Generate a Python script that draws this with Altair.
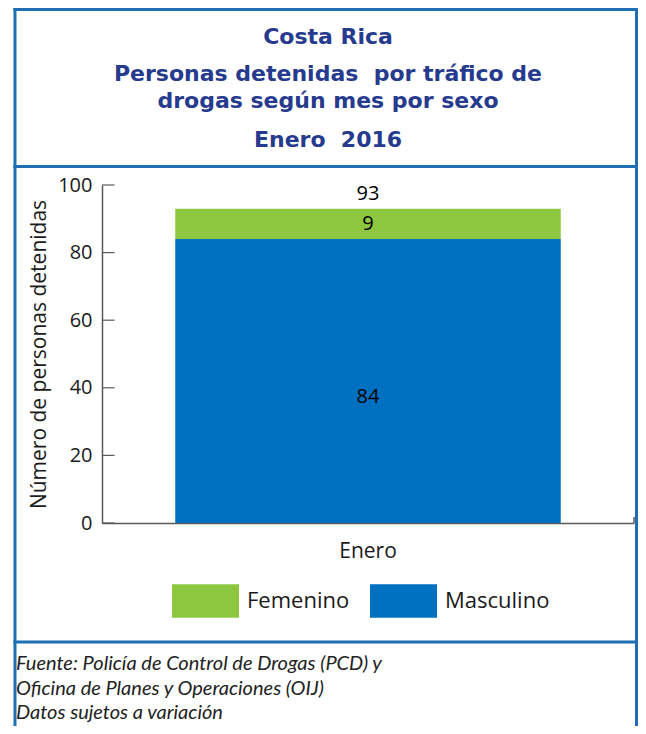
import altair as alt
import pandas as pd

# ---- data ----
months = ["Enero", "Enero"]
sexes = ["Masculino", "Femenino"]
counts = [84, 9]
stack_order = [0, 1]
y_ticks = [0, 20, 40, 60, 80, 100]
legend_domain = ["Femenino", "Masculino"]
legend_colors = ["#8dc63f", "#0070c0"]

title_lines = ["Costa Rica", "Personas detenidas\u00a0 por tráfico de",
               "drogas según mes por sexo", "Enero\u00a0 2016"]
footer_lines = ["Fuente: Policía de Control de Drogas (PCD) y",
                "Oficina de Planes y Operaciones (OIJ)",
                "Datos sujetos a variación"]

df = pd.DataFrame({"mes": months, "sexo": sexes, "valor": counts, "ord": stack_order})

W, H = 532, 338
FRAME = "#1f6eb4"
TXT = "#1a1a1a"
AX = "#595959"

yscale = alt.Scale(domain=[0, 100])
xscale = alt.Scale(paddingInner=0, paddingOuter=0.19)
yaxis = alt.Axis(
    values=y_ticks, tickSize=0, grid=False, labelFont="Open Sans",
    labelFontSize=20, labelColor=TXT, labelPadding=10,
    domainColor=AX, domainWidth=1.5,
    title="Número de personas detenidas", titleFont="Open Sans",
    titleFontSize=21, titleFontWeight="normal", titleColor=TXT,
    titlePadding=8)

base = alt.Chart(df).transform_stack(
    stack="valor", groupby=["mes"], as_=["y0", "y1"],
    sort=[alt.SortField("ord", order="ascending")]
)

bars = base.mark_bar().encode(
    x=alt.X("mes:N", scale=xscale, axis=alt.Axis(
        title=None, labelAngle=0, ticks=False, labelFont="Open Sans",
        labelFontSize=21, labelColor=TXT, labelPadding=17,
        domainColor=AX, domainWidth=1.5)),
    y=alt.Y("y0:Q", scale=yscale, axis=yaxis),
    y2="y1:Q",
    color=alt.Color("sexo:N", scale=alt.Scale(domain=legend_domain, range=legend_colors),
                    legend=alt.Legend(
                        title=None, orient="none", legendX=70, legendY=382,
                        direction="horizontal",
                        symbolType="M-1,-0.5H1V0.5H-1Z", symbolSize=4489,
                        symbolStrokeWidth=0, symbolOpacity=1,
                        labelFont="Open Sans", labelFontSize=22, labelColor=TXT,
                        labelOffset=8, columnPadding=20)),
)

seg_lab_f = base.transform_filter(alt.datum.sexo == "Femenino").transform_calculate(
    mid="(datum.y0 + datum.y1) / 2").mark_text(
    font="Open Sans", fontSize=20, color="black", baseline="middle").encode(
    x=alt.X("mes:N", scale=xscale), y=alt.Y("mid:Q", scale=yscale, axis=yaxis), text="valor:Q")

seg_lab_m = base.transform_filter(alt.datum.sexo == "Masculino").transform_calculate(
    mid="(datum.y0 + datum.y1) / 2").mark_text(
    font="Open Sans", fontSize=20, color="black", baseline="middle", dy=16).encode(
    x=alt.X("mes:N", scale=xscale), y=alt.Y("mid:Q", scale=yscale, axis=yaxis), text="valor:Q")

total_lab = alt.Chart(df).transform_aggregate(
    total="sum(valor)", groupby=["mes"]).mark_text(
    font="Open Sans", fontSize=20, color="black", baseline="middle", dy=-15).encode(
    x=alt.X("mes:N", scale=xscale), y=alt.Y("total:Q", scale=yscale, axis=yaxis), text="total:Q")

tick_rules = alt.Chart(pd.DataFrame({"t": y_ticks})).mark_rule(
    color=AX, strokeWidth=1.2).encode(
    y=alt.Y("t:Q", scale=yscale, axis=yaxis), x=alt.value(0), x2=alt.value(12.5))

one = pd.DataFrame({"k": [0]})
end_tick = alt.Chart(one).mark_rule(color=AX, strokeWidth=1.5).encode(
    x=alt.value(W), y=alt.value(H - 6), y2=alt.value(H))

# title lines
title_y = [-141, -104, -77, -38]
title_layers = [
    alt.Chart(one).mark_text(text=t, font="DejaVu Sans", fontWeight="bold", fontSize=22,
                             color="#263a8e", align="center", baseline="alphabetic").encode(
        x=alt.value(226), y=alt.value(yy))
    for t, yy in zip(title_lines, title_y)
]

footer_y = [485, 510, 534]
footer_layers = [
    alt.Chart(one).mark_text(text=t, font="Lato", fontStyle="italic", fontSize=20,
                             color="#222222", align="left", baseline="alphabetic").encode(
        x=alt.value(-86), y=alt.value(yy))
    for t, yy in zip(footer_lines, footer_y)
]

# frame lines
L, R = -87, 534.5
def hline(y):
    return alt.Chart(one).mark_rule(color=FRAME, strokeWidth=3).encode(
        x=alt.value(L - 1.5), x2=alt.value(R + 1.5), y=alt.value(y))
def vline(x):
    return alt.Chart(one).mark_rule(color=FRAME, strokeWidth=3).encode(
        x=alt.value(x), y=alt.value(-177), y2=alt.value(545))

frame = [hline(-175.5), hline(-18.5), hline(457), vline(L), vline(R)]

chart = alt.layer(
    bars, tick_rules, end_tick, seg_lab_f, seg_lab_m, total_lab,
    *title_layers, *footer_layers, *frame
).properties(
    width=W, height=H,
    autosize=alt.AutoSizeParams(type="none"),
    padding={"left": 94, "top": 177, "right": 4, "bottom": 203},
).configure_view(strokeWidth=0)

chart.save("out.html", embed_options={"renderer": "svg", "actions": False})
